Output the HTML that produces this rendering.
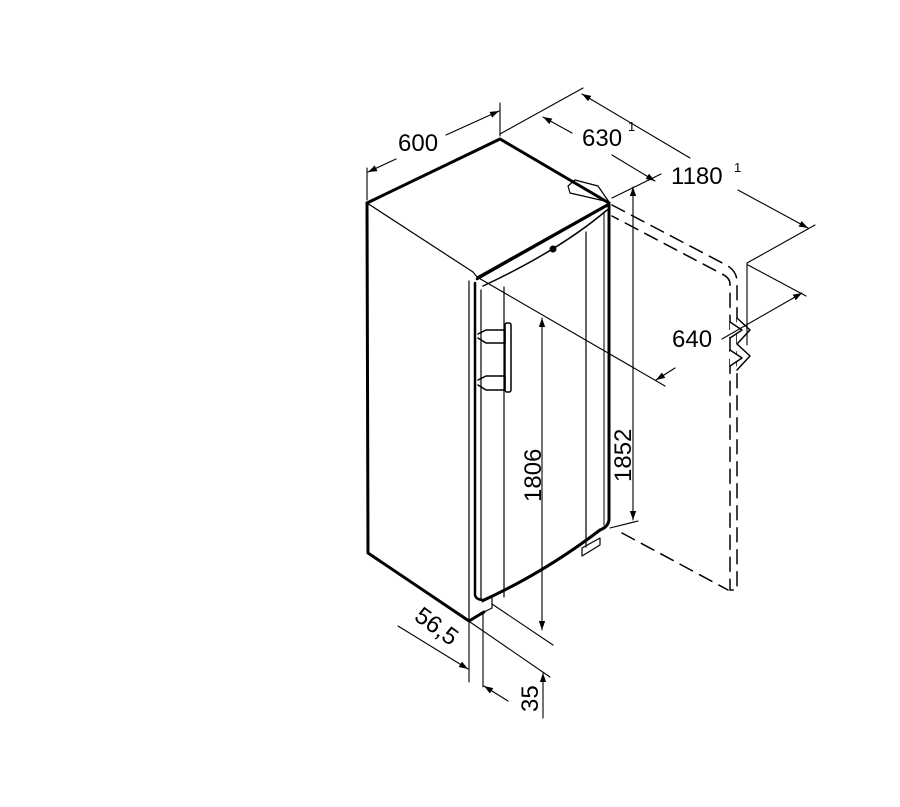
<!DOCTYPE html>
<html><head><meta charset="utf-8"><style>
html,body{margin:0;padding:0;background:#fff;}
svg{display:block;}
text{font-family:"Liberation Sans",Arial,sans-serif;fill:#000;}
</style></head><body>
<svg width="900" height="807" viewBox="0 0 900 807" xmlns="http://www.w3.org/2000/svg">
<defs>
<marker id="a" viewBox="0 0 10 10" refX="10" refY="5" markerWidth="9" markerHeight="9" orient="auto-start-reverse" markerUnits="userSpaceOnUse"><path d="M0,1.5 L10,5 L0,8.5 z" fill="#000"/></marker>
</defs>
<g fill="none" stroke="#000" stroke-linejoin="round" stroke-linecap="round">
<path d="M367,203 L500,139 L609,203" stroke-width="3"/>
<path d="M367,203 L368,553 L469,621 L484,612" stroke-width="3"/>
<path d="M367,203 L473,272" stroke-width="1.2"/>
<path d="M473,272 L477,277 L609,203" stroke-width="1.2"/>
<path d="M477,279 L608,205" stroke-width="2.5"/>
<path d="M483,286 Q560,250 607,210" stroke-width="1.5"/>
<path d="M568,186 L575,180 L598,186 L609,202 L570,193 Z" stroke-width="1.2"/>
<path d="M609,203 L609,520 Q608,527 600,530" stroke-width="3"/>
<path d="M604,212 L604,525" stroke-width="1"/>
<path d="M469,281 L469,620" stroke-width="1.2"/>
<path d="M475,283 L475,595 Q476,600 484,600" stroke-width="2.5"/>
<path d="M481,290 L481,600" stroke-width="1.2"/>
<path d="M504,287 L504,597" stroke-width="1.2"/>
<path d="M586,232 L586,547" stroke-width="1.2"/>
<path d="M484,600 Q545,572 600,530" stroke-width="3"/>
<path d="M482,602 L492,597 L492,608 L484,612" stroke-width="1.2"/>
<path d="M582,548 L600,538 L600,545 L582,556 Z" stroke-width="1.2"/>
<path d="M478,334 L486,330 L505,330 L505,343 L486,343 L478,338" stroke-width="1.5"/>
<path d="M478,380 L486,376 L505,376 L505,390 L486,390 L478,385" stroke-width="1.5"/>
<rect x="505" y="323" width="6" height="69" rx="2" stroke-width="1.5"/>
<path d="M612,205 L728,266 Q737,272 737,282 L737,590 L730,590 L730,284 Q730,278 722,274 L612,216" stroke-width="1.5" stroke-dasharray="14,8"/>
<path d="M622,533 L728,590" stroke-width="1.5" stroke-dasharray="14,8"/>
<path d="M730,322 L742,330 L730,338 M737,318 L750,330 L737,344 M730,350 L742,358 L730,366 M737,344 L750,356 L737,370" stroke-width="1.5" fill="#fff"/>
<g stroke-width="1.1">
<path d="M367,200 L367,168"/>
<path d="M500,136 L500,103"/>
<path d="M368,172 L396,159" marker-start="url(#a)"/>
<path d="M446,135 L499,111" marker-end="url(#a)"/>
<path d="M500,134 L583,88"/>
<path d="M543,117 L572,133" marker-start="url(#a)"/>
<path d="M612,155 L655,181" marker-end="url(#a)"/>
<path d="M612,198 L661,174"/>
<path d="M582,94 L690,158" marker-start="url(#a)"/>
<path d="M738,190 L808,228" marker-end="url(#a)"/>
<path d="M747,263 L815,225"/>
<path d="M747,263 L747,345"/>
<path d="M477,277 L665,386"/>
<path d="M748,265 L806,296"/>
<path d="M656,380 L675,368" marker-start="url(#a)"/>
<path d="M722,339 L802,293" marker-end="url(#a)"/>
<path d="M633,187 L633,520" marker-start="url(#a)" marker-end="url(#a)"/>
<path d="M610,528 L638,521"/>
<path d="M542,318 L542,630" marker-start="url(#a)" marker-end="url(#a)"/>
<path d="M492,604 L553,645"/>
<path d="M470,622 L550,677"/>
<path d="M543,673 L543,718" marker-start="url(#a)"/>
<path d="M469,622 L469,682"/>
<path d="M483,613 L483,687"/>
<path d="M398,626 L468,669" marker-end="url(#a)"/>
<path d="M484,686 L508,701" marker-start="url(#a)"/>
</g>
</g>
<circle cx="553" cy="249" r="3.5" fill="#000"/>
<text x="398" y="151" font-size="24">600</text>
<text x="582" y="146" font-size="24">630</text>
<text x="628" y="131" font-size="13">1</text>
<text x="671" y="184" font-size="24">1180</text>
<text x="734" y="172" font-size="13">1</text>
<text x="672" y="347" font-size="24">640</text>
<text transform="translate(631,482) rotate(-90)" font-size="24">1852</text>
<text transform="translate(541,502) rotate(-90)" font-size="24">1806</text>
<text transform="translate(538,712) rotate(-90)" font-size="24">35</text>
<text transform="translate(413,619) rotate(36)" font-size="24">56,5</text>
</svg>
</body></html>
